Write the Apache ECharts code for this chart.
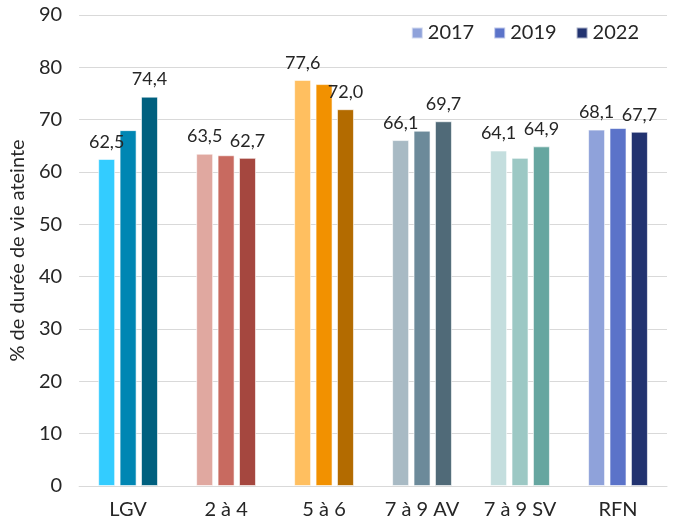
<!DOCTYPE html>
<html>
<head>
<meta charset="utf-8">
<script src="https://cdn.jsdelivr.net/npm/echarts@6/dist/echarts.min.js"></script>
<style>
  html, body { margin: 0; padding: 0; background: #fff; }
  #chart { width: 682px; height: 523px; }
</style>
</head>
<body>
<div id="chart"></div>
<script>
const categories = ['LGV', '2 à 4', '5 à 6', '7 à 9 AV', '7 à 9 SV', 'RFN']
const years = ['2017', '2019', '2022']
const values2017 = [62.5, 63.5, 77.6, 66.1, 64.1, 68.1]
const values2019 = [68.0, 63.2, 76.8, 67.9, 62.7, 68.4]
const values2022 = [74.4, 62.7, 72.0, 69.7, 64.9, 67.7]
const yTicks = [0, 10, 20, 30, 40, 50, 60, 70, 80, 90]

// une palette par groupe : [2017, 2019, 2022]
const palettes = [
  ['#33CCFF', '#0086B3', '#00607F'],
  ['#E0A8A0', '#C86A60', '#A5473F'],
  ['#FFBF60', '#F29100', '#B36B00'],
  ['#A8BAC4', '#6C8A9A', '#506A78'],
  ['#C4DEDE', '#9CC8C4', '#66A6A0'],
  ['#8FA2DA', '#5B73C9', '#223370'],
]
const font = 'Lato'
const textColor = '#262626'

const allValues = [values2017, values2019, values2022]

function makeSeries(idx) {
  const showLabel = idx !== 1 // pas d'étiquette sur 2019
  return {
    name: years[idx],
    type: 'bar',
    barWidth: 17,
    barGap: '26%',
    itemStyle: { color: palettes[5][idx], borderColor: 'rgba(255,255,255,0.6)', borderWidth: 1 },
    label: {
      show: showLabel,
      position: 'top',
      distance: 8,
      fontFamily: font,
      fontSize: 18,
      color: textColor,
      formatter: (p) => p.value.toFixed(1).replace('.', ','),
    },
    data: allValues[idx].map((v, i) => ({
      value: v,
      itemStyle: { color: palettes[i][idx] },
    })),
  }
}

const chart = echarts.init(document.getElementById('chart'))
chart.setOption({
  animation: false,
  textStyle: { fontFamily: font },
  legend: {
    data: years,
    top: 18,
    right: 38,
    itemWidth: 11,
    itemHeight: 11,
    itemGap: 19,
    icon: 'rect',
    textStyle: { fontFamily: font, fontSize: 20, color: textColor },
  },
  grid: { left: 79, right: 15, top: 15, bottom: 37 },
  xAxis: {
    type: 'category',
    data: categories,
    axisTick: { show: false },
    axisLine: { lineStyle: { color: '#d9d9d9' } },
    axisLabel: { fontFamily: font, fontSize: 20, color: textColor, margin: 14 },
  },
  yAxis: {
    type: 'value',
    min: yTicks[0],
    max: yTicks[yTicks.length - 1],
    interval: 10,
    name: '% de durée de vie ateinte',
    nameLocation: 'middle',
    nameGap: 48,
    nameTextStyle: { fontFamily: font, fontSize: 20, color: textColor },
    axisLabel: { fontFamily: font, fontSize: 20, color: textColor, margin: 17 },
    splitLine: { lineStyle: { color: '#d9d9d9', width: 1 } },
  },
  series: [makeSeries(0), makeSeries(1), makeSeries(2)],
})
</script>
</body>
</html>
